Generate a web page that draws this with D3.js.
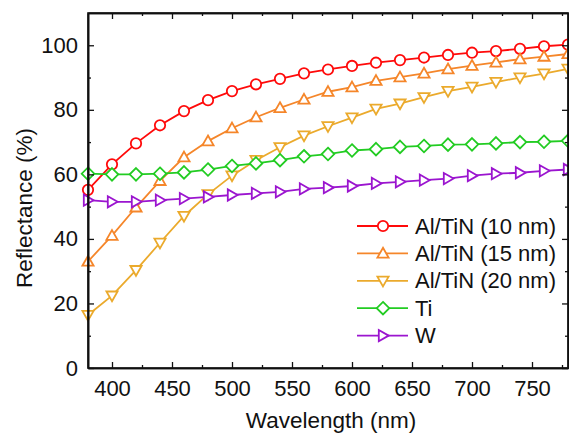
<!DOCTYPE html>
<html>
<head>
<meta charset="utf-8">
<script src="https://d3js.org/d3.v7.min.js"></script>
<style>
  body { margin: 0; background: #fff; }
  text { font-family: "Liberation Sans", Arial, sans-serif; fill: #111; }
</style>
</head>
<body>
<svg id="chart" width="569" height="434"></svg>
<script>
// wavelengths (nm), one point every 20 nm
const wavelengths = [380,400,420,440,460,480,500,520,540,560,580,600,620,640,660,680,700,720,740,760,780];

const alTin10 = [55.2,63.1,69.6,75.2,79.6,83.0,85.8,87.9,89.6,91.3,92.5,93.6,94.6,95.4,96.2,97.0,97.7,98.2,98.9,99.7,100.2];
const alTin15 = [33.0,41.0,49.8,58.0,65.3,70.3,74.3,77.7,80.6,83.2,85.6,87.0,89.0,90.1,91.3,92.6,93.7,94.7,95.7,96.5,97.3];
const alTin20 = [16.4,22.4,30.3,38.8,47.1,53.8,59.6,64.4,68.4,72.0,74.9,77.6,80.3,81.9,83.9,85.8,87.1,88.6,90.0,91.2,92.7];
const ti      = [60.2,60.0,60.0,60.2,60.6,61.5,62.6,63.4,64.4,65.6,66.3,67.4,67.8,68.5,68.8,69.2,69.3,69.6,70.0,70.1,70.4];
const w       = [52.0,51.5,51.5,52.0,52.5,53.0,53.6,54.1,54.6,55.5,55.9,56.4,57.2,57.7,58.2,58.7,59.6,60.2,60.5,61.1,61.5];

const seriesNames = ["Al/TiN (10 nm)", "Al/TiN (15 nm)", "Al/TiN (20 nm)", "Ti", "W"];
const seriesValues = [alTin10, alTin15, alTin20, ti, w];
const seriesColors = ["#ff0a0a", "#f5862a", "#ebaa2c", "#22cc22", "#9b15cf"];
const seriesMarkers = ["circle", "up", "down", "diamond", "right"];

const xTicks = [400,450,500,550,600,650,700,750];
const xMinorTicks = [425,475,525,575,625,675,725,775];
const yTicks = [0,20,40,60,80,100];
const yMinorTicks = [10,30,50,70,90];

const svg = d3.select("#chart");
const mLeft = 88, mRight = 568, mTop = 13, mBottom = 368;

const x = d3.scaleLinear().domain([380, 780]).range([mLeft, mRight]);
const y = d3.scaleLinear().domain([0, 110]).range([mBottom, mTop]);

// marker shapes
function markerPath(kind) {
  if (kind === "circle") return d3.symbol(d3.symbolCircle, Math.PI * 5.2 * 5.2)();
  if (kind === "diamond") return "M0,-6.3L6.3,0L0,6.3L-6.3,0Z";
  if (kind === "up") return "M0,-5.6L5.6,4.2L-5.6,4.2Z";
  if (kind === "down") return "M0,5.6L5.6,-4.2L-5.6,-4.2Z";
  if (kind === "right") return "M5.6,0L-4.2,5.6L-4.2,-5.6Z";
}

const plot = svg.append("g");
const line = d3.line().x(d => x(d[0])).y(d => y(d[1]));

seriesValues.forEach(function(vals, i) {
  const pts = wavelengths.map((wl, j) => [wl, vals[j]]);
  const g = plot.append("g");
  g.append("path")
    .attr("d", line(pts))
    .attr("fill", "none")
    .attr("stroke", seriesColors[i])
    .attr("stroke-width", 1.8);
  g.selectAll("path.m")
    .data(pts)
    .join("path")
      .attr("class", "m")
      .attr("transform", d => `translate(${x(d[0])},${y(d[1])})`)
      .attr("d", markerPath(seriesMarkers[i]))
      .attr("fill", "#fff")
      .attr("stroke", seriesColors[i])
      .attr("stroke-width", 1.8);
});

// axes, ticks pointing inward
const fmt = d3.format("d");
svg.append("g").attr("transform", `translate(0,${mBottom})`)
  .call(d3.axisBottom(x).tickValues(xTicks).tickFormat(fmt).tickSizeInner(-6).tickSizeOuter(0).tickPadding(12));
svg.append("g").attr("transform", `translate(0,${mBottom})`)
  .call(d3.axisBottom(x).tickValues(xMinorTicks).tickFormat("").tickSizeInner(-3).tickSizeOuter(0));
svg.append("g").attr("transform", `translate(${mLeft},0)`)
  .call(d3.axisLeft(y).tickValues(yTicks).tickFormat(fmt).tickSizeInner(-6).tickSizeOuter(0).tickPadding(10));
svg.append("g").attr("transform", `translate(${mLeft},0)`)
  .call(d3.axisLeft(y).tickValues(yMinorTicks).tickFormat("").tickSizeInner(-3).tickSizeOuter(0));
svg.append("g").attr("transform", `translate(0,${mTop})`)
  .call(d3.axisTop(x).tickValues(xTicks).tickFormat("").tickSizeInner(-6).tickSizeOuter(0));
svg.append("g").attr("transform", `translate(0,${mTop})`)
  .call(d3.axisTop(x).tickValues(xMinorTicks).tickFormat("").tickSizeInner(-3).tickSizeOuter(0));
svg.append("g").attr("transform", `translate(${mRight},0)`)
  .call(d3.axisRight(y).tickValues(yTicks).tickFormat("").tickSizeInner(-6).tickSizeOuter(0));
svg.append("g").attr("transform", `translate(${mRight},0)`)
  .call(d3.axisRight(y).tickValues(yMinorTicks).tickFormat("").tickSizeInner(-3).tickSizeOuter(0));

svg.selectAll(".domain").attr("stroke", "#111").attr("stroke-width", 1.6);
svg.selectAll(".tick line").attr("stroke", "#111").attr("stroke-width", 1.3);
svg.selectAll(".tick text").style("font-size", "22px").attr("fill", "#111");

// frame
svg.append("rect")
  .attr("x", mLeft).attr("y", mTop)
  .attr("width", mRight - mLeft).attr("height", mBottom - mTop)
  .attr("fill", "none").attr("stroke", "#111").attr("stroke-width", 1.6);

// axis titles
svg.append("text")
  .attr("x", 331).attr("y", 428)
  .attr("text-anchor", "middle")
  .style("font-size", "22.5px")
  .text("Wavelength (nm)");
svg.append("text")
  .attr("transform", "translate(32,208) rotate(-90)")
  .attr("text-anchor", "middle")
  .style("font-size", "22.5px")
  .text("Reflectance (%)");

// legend
const legend = svg.append("g");
seriesNames.forEach(function(name, i) {
  const ly = 226 + i * 27.4;
  legend.append("line")
    .attr("x1", 357).attr("x2", 408).attr("y1", ly).attr("y2", ly)
    .attr("stroke", seriesColors[i]).attr("stroke-width", 1.8);
  legend.append("path")
    .attr("transform", `translate(383,${ly})`)
    .attr("d", markerPath(seriesMarkers[i]))
    .attr("fill", "#fff")
    .attr("stroke", seriesColors[i])
    .attr("stroke-width", 1.8);
  legend.append("text")
    .attr("x", 415).attr("y", ly + 7.5)
    .style("font-size", "22px")
    .text(name);
});
</script>
</body>
</html>
